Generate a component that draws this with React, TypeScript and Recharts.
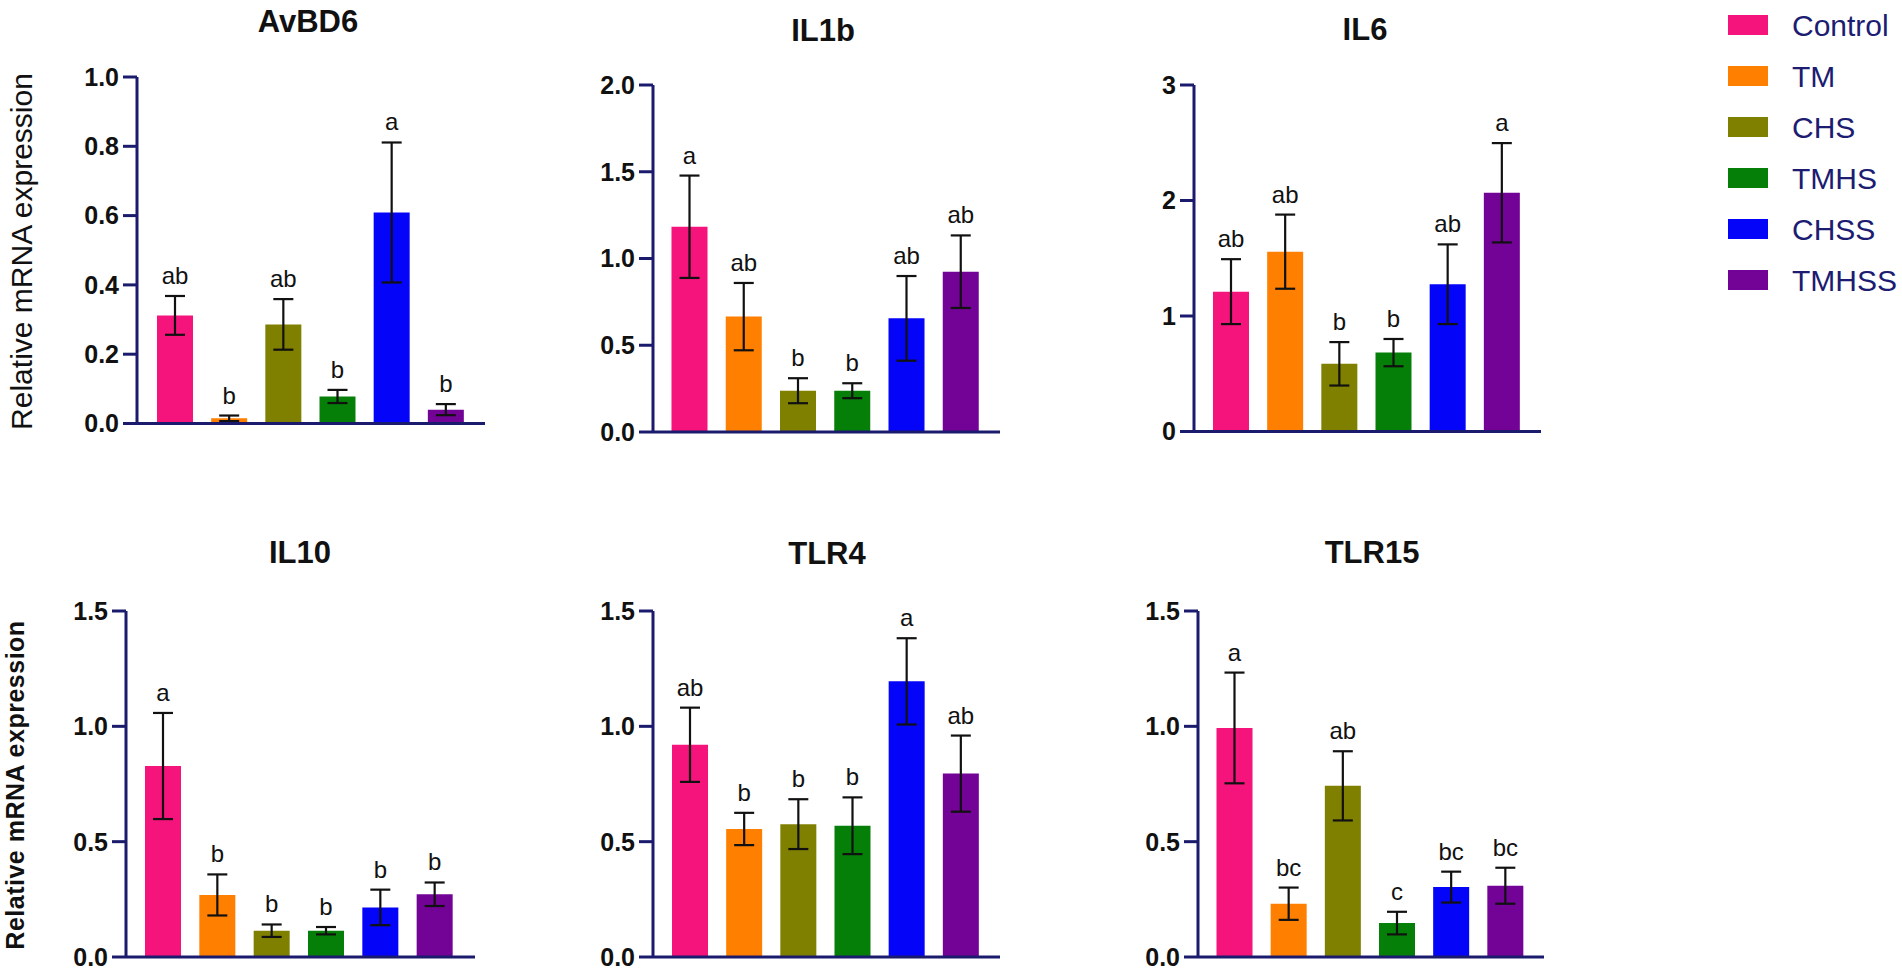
import React from 'react';
import { BarChart, Bar, XAxis, YAxis, Cell, ErrorBar, LabelList } from 'recharts';

// ---------- data ----------
const groups = ['Control', 'TM', 'CHS', 'TMHS', 'CHSS', 'TMHSS'];
const groupColors = ['#F5137C', '#FF7F00', '#7F7F00', '#067F08', '#0404F8', '#720396'];

const avbd6Values = [0.312, 0.015, 0.286, 0.078, 0.609, 0.040];
const avbd6Errors = [0.056, 0.008, 0.073, 0.019, 0.202, 0.016];
const avbd6Letters = ['ab', 'b', 'ab', 'b', 'a', 'b'];
const avbd6Ticks = [0, 0.2, 0.4, 0.6, 0.8, 1.0];

const il1bValues = [1.183, 0.665, 0.238, 0.238, 0.655, 0.924];
const il1bErrors = [0.295, 0.194, 0.072, 0.043, 0.244, 0.209];
const il1bLetters = ['a', 'ab', 'b', 'b', 'ab', 'ab'];
const il1bTicks = [0, 0.5, 1.0, 1.5, 2.0];

const il6Values = [1.211, 1.557, 0.586, 0.683, 1.275, 2.067];
const il6Errors = [0.281, 0.321, 0.188, 0.118, 0.345, 0.43];
const il6Letters = ['ab', 'ab', 'b', 'b', 'ab', 'a'];
const il6Ticks = [0, 1, 2, 3];

const il10Values = [0.828, 0.269, 0.114, 0.114, 0.215, 0.272];
const il10Errors = [0.23, 0.089, 0.027, 0.016, 0.077, 0.051];
const il10Letters = ['a', 'b', 'b', 'b', 'b', 'b'];
const il10Ticks = [0, 0.5, 1.0, 1.5];

const tlr4Values = [0.92, 0.555, 0.576, 0.569, 1.195, 0.795];
const tlr4Errors = [0.161, 0.07, 0.108, 0.123, 0.187, 0.165];
const tlr4Letters = ['ab', 'b', 'b', 'b', 'a', 'ab'];
const tlr4Ticks = [0, 0.5, 1.0, 1.5];

const tlr15Values = [0.993, 0.231, 0.742, 0.147, 0.303, 0.309];
const tlr15Errors = [0.24, 0.07, 0.15, 0.049, 0.067, 0.078];
const tlr15Letters = ['a', 'bc', 'ab', 'c', 'bc', 'bc'];
const tlr15Ticks = [0, 0.5, 1.0, 1.5];

const yAxisTitle = 'Relative mRNA expression';

// ---------- styles / layout ----------
const NAVY = '#1b1b6e';
const INK = '#111111';
const FONT = '"Liberation Sans", Arial, Helvetica, sans-serif';

type Spec = {
  title: string;
  values: number[];
  errors: number[];
  letters: string[];
  ticks: number[];
  decimals: number;
  left: number;
  right: number;
  top: number;
  bottom: number;
  padL: number;
  padR: number;
  titleX: number;
  titleY: number;
};

const panels: Spec[] = [
  { title: 'AvBD6', values: avbd6Values, errors: avbd6Errors, letters: avbd6Letters, ticks: avbd6Ticks, decimals: 1,
    left: 137, right: 485, top: 76.5, bottom: 423, padL: 11, padR: 12, titleX: 308, titleY: 32 },
  { title: 'IL1b', values: il1bValues, errors: il1bErrors, letters: il1bLetters, ticks: il1bTicks, decimals: 1,
    left: 653, right: 1000, top: 85, bottom: 432, padL: 9.5, padR: 12, titleX: 823, titleY: 41 },
  { title: 'IL6', values: il6Values, errors: il6Errors, letters: il6Letters, ticks: il6Ticks, decimals: 0,
    left: 1194, right: 1541, top: 85, bottom: 431.5, padL: 10, padR: 12, titleX: 1365, titleY: 40 },
  { title: 'IL10', values: il10Values, errors: il10Errors, letters: il10Letters, ticks: il10Ticks, decimals: 1,
    left: 126, right: 475, top: 611, bottom: 957, padL: 10, padR: 13, titleX: 300, titleY: 563 },
  { title: 'TLR4', values: tlr4Values, errors: tlr4Errors, letters: tlr4Letters, ticks: tlr4Ticks, decimals: 1,
    left: 652.5, right: 999.5, top: 611, bottom: 957, padL: 10, padR: 12, titleX: 827, titleY: 564 },
  { title: 'TLR15', values: tlr15Values, errors: tlr15Errors, letters: tlr15Letters, ticks: tlr15Ticks, decimals: 1,
    left: 1198, right: 1544, top: 611, bottom: 957, padL: 9.5, padR: 11.5, titleX: 1372, titleY: 563 },
];

const Y_W = 80;
const M_LEFT = 20;
const M_TOP = 24;
const M_RIGHT = 10;
const M_BOTTOM = 15;
const X_H = 2;

function renderLetter(props: any, spec: Spec) {
  const { x, y, width, height, index } = props;
  const i = Number(index);
  const v = spec.values[i];
  const pxPerUnit = Number(height) / v;
  const errTop = Number(y) - spec.errors[i] * pxPerUnit;
  return (
    <text
      key={`lt-${i}`}
      x={Number(x) + Number(width) / 2}
      y={errTop - 12}
      textAnchor="middle"
      fontSize={24}
      fontFamily={FONT}
      fill={INK}
    >
      {spec.letters[i]}
    </text>
  );
}

function Panel({ spec }: { spec: Spec }) {
  const plotW = spec.right - spec.left;
  const plotH = spec.bottom - spec.top;
  const width = plotW + M_LEFT + Y_W + M_RIGHT;
  const height = plotH + M_TOP + M_BOTTOM + X_H;
  const data = groups.map((g, i) => ({
    name: g,
    value: spec.values[i],
    se: spec.errors[i],
    letter: spec.letters[i],
  }));
  const max = spec.ticks[spec.ticks.length - 1];
  return (
    <div style={{ position: 'absolute', left: spec.left - Y_W - M_LEFT, top: spec.top - M_TOP, width, height }}>
      <BarChart
        width={width}
        height={height}
        data={data}
        margin={{ top: M_TOP, left: M_LEFT, right: M_RIGHT, bottom: M_BOTTOM }}
        barSize={36}
        style={{ overflow: 'visible' }}
      >
        <XAxis
          dataKey="name"
          height={X_H}
          tick={false}
          tickLine={false}
          axisLine={{ stroke: NAVY, strokeWidth: 3 }}
          padding={{ left: spec.padL, right: spec.padR }}
        />
        <YAxis
          width={Y_W}
          domain={[0, max]}
          ticks={spec.ticks}
          interval={0}
          allowDataOverflow
          tickFormatter={(t: number) => t.toFixed(spec.decimals)}
          tickSize={14}
          tickMargin={4}
          axisLine={{ stroke: NAVY, strokeWidth: 3 }}
          tickLine={{ stroke: NAVY, strokeWidth: 3 }}
          tick={{ fill: INK, fontSize: 25, fontWeight: 700, fontFamily: FONT }}
        />
        <Bar dataKey="value" isAnimationActive={false}>
          {data.map((d, i) => (
            <Cell key={d.name} fill={groupColors[i]} />
          ))}
          <ErrorBar dataKey="se" width={10} stroke={INK} strokeWidth={2.2} direction="y" isAnimationActive={false} />
          <LabelList dataKey="letter" content={(p: any) => renderLetter(p, spec)} />
        </Bar>
      </BarChart>
    </div>
  );
}

export default function App() {
  return (
    <div style={{ position: 'absolute', left: 0, top: 0, width: 1902, height: 974, background: '#ffffff', overflow: 'hidden' }}>
      {panels.map((p) => (
        <Panel key={p.title} spec={p} />
      ))}
      <svg
        width={1902}
        height={974}
        style={{ position: 'absolute', left: 0, top: 0, pointerEvents: 'none' }}
      >
        {panels.map((p) => (
          <text key={`t-${p.title}`} x={p.titleX} y={p.titleY} textAnchor="middle" fontSize={31} fontWeight={700} fontFamily={FONT} fill={INK}>
            {p.title}
          </text>
        ))}
        <text transform="translate(32,251.5) rotate(-90)" textAnchor="middle" fontSize={30} fontFamily={FONT} fill={INK}>
          {yAxisTitle}
        </text>
        <text transform="translate(24,785) rotate(-90)" textAnchor="middle" fontSize={25} fontWeight={700} fontFamily={FONT} fill={INK} letterSpacing={0.5}>
          {yAxisTitle}
        </text>
        {groups.map((g, i) => (
          <g key={`lg-${g}`}>
            <rect x={1728} y={25 + 51 * i - 10} width={40} height={20} fill={groupColors[i]} />
            <text x={1792} y={25 + 51 * i + 10.5} fontSize={30} fontFamily={FONT} fill="#1c1c72">
              {g}
            </text>
          </g>
        ))}
      </svg>
    </div>
  );
}
